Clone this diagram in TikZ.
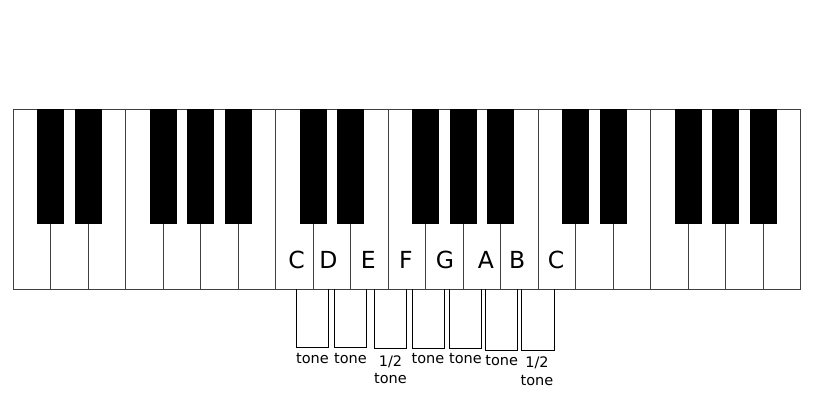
\documentclass[tikz,border=0pt]{standalone}
\usepackage{fontspec}
\setmainfont{DejaVu Sans}
\begin{document}
\begin{tikzpicture}[x=1pt,y=-1pt,
  whitekey/.style={draw=black!75,line width=0.9pt,fill=white},
  blackkey/.style={fill=black},
  note/.style={font=\fontsize{23.5}{26}\selectfont,anchor=base,inner sep=0pt},
  step label/.style={font=\fontsize{14.5}{17}\selectfont,anchor=base,inner sep=0pt},
  bracketline/.style={draw=black,line width=1pt}]
\useasboundingbox (0,0) rectangle (814,400);
% white keys
\foreach \i in {0,...,20}{
  \draw[whitekey] ({13.3+37.5*\i},109.3) rectangle ({13.3+37.5*(\i+1)},289.3);
}
% black keys
\foreach \o in {0,1,2}{
  \foreach \b in {1,2,4,5,6}{
    \fill[blackkey] ({13.3+37.5*(7*\o+\b)-13.35},109.3) rectangle ({13.3+37.5*(7*\o+\b)+13.35},223.7);
  }
}
% note names
\node[note] (c1) at (296.5,268.3) {C};
\node[note] (d) at (328.3,268.3) {D};
\node[note] (e) at (368.3,268.3) {E};
\node[note] (f) at (406,268.3) {F};
\node[note] (g) at (445,268.3) {G};
\node[note] (a) at (486,268.3) {A};
\node[note] (b) at (517.3,268.3) {B};
\node[note] (c2) at (556,268.3) {C};
% brackets
\foreach \l/\r/\y [count=\k] in {296/328.7/347.7, 334/366.7/347.7, 374.3/406.7/348.7, 412.3/444/348.7, 449.3/481.7/348.7, 485.7/517.7/350, 521.7/554/350}{
  \coordinate (bl\k) at (\l,289.3);
  \coordinate (br\k) at (\r,289.3);
  \draw[bracketline] (bl\k) -- (\l,\y) -- (\r,\y) -- (br\k);
}
% step labels
\node[step label] (t1) at (312.5,363) {tone};
\node[step label] (t2) at (350.5,363) {tone};
\node[step label] (h3) at (390.5,366) {1/2};
\node[step label] (t3) at (390.5,383) {tone};
\node[step label] (t4) at (428,363) {tone};
\node[step label] (t5) at (465.5,363) {tone};
\node[step label] (t6) at (501.7,365) {tone};
\node[step label] (h7) at (537,367) {1/2};
\node[step label] (t7) at (537,385) {tone};
\end{tikzpicture}
\end{document}
